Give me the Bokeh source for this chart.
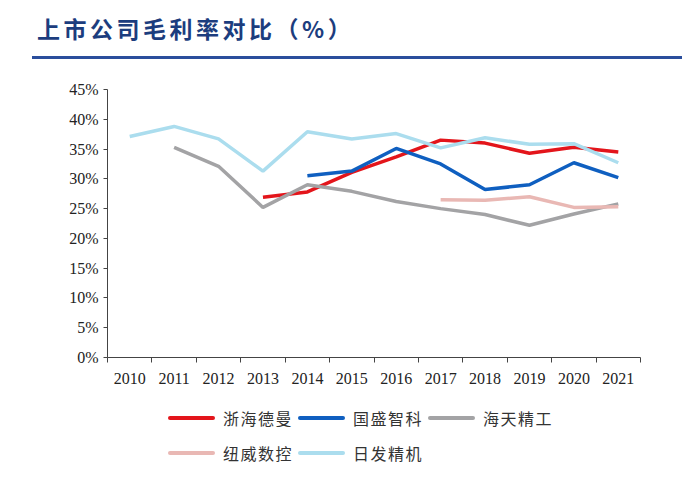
from bokeh.plotting import figure
from bokeh.models import FixedTicker, Div, ColumnDataSource
from bokeh.layouts import column
from bokeh.embed import file_html
from bokeh.resources import INLINE

years = [2010, 2011, 2012, 2013, 2014, 2015, 2016, 2017, 2018, 2019, 2020, 2021]
nan = float("nan")
zhdm = [nan, nan, nan, 26.9, 27.8, 31.1, 33.7, 36.5, 36.0, 34.3, 35.3, 34.5]   # 浙海德曼
gszk = [nan, nan, nan, nan, 30.5, 31.3, 35.1, 32.5, 28.2, 29.0, 32.7, 30.2]    # 国盛智科
htjg = [nan, 35.3, 32.1, 25.2, 29.0, 27.9, 26.2, 25.0, 24.0, 22.2, 24.1, 25.8] # 海天精工
nwsk = [nan, nan, nan, nan, nan, nan, nan, 26.5, 26.4, 27.0, 25.2, 25.3]       # 纽威数控
rfjj = [37.1, 38.8, 36.7, 31.3, 37.9, 36.7, 37.6, 35.2, 36.9, 35.8, 35.9, 32.7] # 日发精机
names = ["浙海德曼", "国盛智科", "海天精工", "纽威数控", "日发精机"]
series = [zhdm, gszk, htjg, nwsk, rfjj]
colors = ["#E3151B", "#0F5FC0", "#A3A3A5", "#E9B8B4", "#ABDDEE"]
y_ticks = [0, 5, 10, 15, 20, 25, 30, 35, 40, 45]
title_text = "上市公司毛利率对比（%）"

CJK = "Noto Sans CJK SC"
SERIF = "Liberation Serif"
W = 682

# ---- title block (HTML) ----
title_html = (
    f'<div style="position:relative;width:{W}px;height:60px;">'
    '<div style="position:absolute;left:37px;top:13px;line-height:30px;'
    f'font-family:\'{CJK}\';font-weight:bold;font-size:23px;color:#1C3D7E;'
    f'letter-spacing:3.5px;white-space:nowrap;">{title_text}</div>'
    f'<div style="position:absolute;left:32px;width:{W - 32}px;top:56px;height:3px;'
    'background:#2A4E9C;"></div></div>'
)
title_div = Div(text=title_html, width=W, height=60, margin=(0, 0, 0, 0))

# ---- chart ----
p = figure(width=W, height=335, output_backend="svg", toolbar_location=None,
           x_range=(years[0] - 0.5, years[-1] + 0.5), y_range=(0, 45),
           min_border_left=107, min_border_right=42, min_border_top=29,
           min_border_bottom=38, margin=(0, 0, 0, 0))
p.outline_line_color = None
p.xgrid.visible = False
p.ygrid.visible = False
p.background_fill_color = "white"
p.border_fill_color = "white"

p.xaxis.ticker = FixedTicker(ticks=years, minor_ticks=[y - 0.5 for y in years] + [years[-1] + 0.5])
p.xaxis.major_label_overrides = {y: str(y) for y in years}
p.xaxis.major_tick_in = 0
p.xaxis.major_tick_out = 0
p.xaxis.minor_tick_in = 0
p.xaxis.minor_tick_out = 5
p.xaxis.minor_tick_line_color = "#444444"
p.xaxis.axis_line_color = "#444444"
p.xaxis.major_label_text_font = SERIF
p.xaxis.major_label_text_font_size = "16px"
p.xaxis.major_label_text_color = "#222222"
p.xaxis.major_label_standoff = 10

p.yaxis.ticker = FixedTicker(ticks=y_ticks)
p.yaxis.major_label_overrides = {t: f"{t}%" for t in y_ticks}
p.yaxis.major_tick_in = 0
p.yaxis.major_tick_out = 4
p.yaxis.minor_tick_line_color = None
p.yaxis.major_tick_line_color = "#444444"
p.yaxis.axis_line_color = "#444444"
p.yaxis.major_label_text_font = SERIF
p.yaxis.major_label_text_font_size = "16px"
p.yaxis.major_label_text_color = "#222222"
p.yaxis.major_label_standoff = 5

for name, vals, c in zip(names, series, colors):
    src = ColumnDataSource(dict(x=years, y=vals))
    p.line("x", "y", source=src, line_color=c, line_width=3.5)

# ---- legend block (HTML) ----
pos = [(168, 23), (298, 23), (428, 23), (168, 58), (298, 58)]
parts = [f'<div style="position:relative;width:{W}px;height:75px;">']
for (x, yc), name, c in zip(pos, names, colors):
    parts.append(f'<div style="position:absolute;left:{x}px;top:{yc - 2}px;width:47px;'
                 f'height:4px;background:{c};border-radius:2px;"></div>')
    parts.append(f'<div style="position:absolute;left:{x + 55}px;top:{yc - 12}px;'
                 f'line-height:24px;font-family:\'{CJK}\';font-size:16px;color:#333333;'
                 f'letter-spacing:1.5px;white-space:nowrap;">{name}</div>')
parts.append('</div>')
legend_div = Div(text="".join(parts), width=W, height=75, margin=(0, 0, 0, 0))

layout = column(title_div, p, legend_div, spacing=0)
open("out.html", "w").write(file_html(layout, INLINE))
